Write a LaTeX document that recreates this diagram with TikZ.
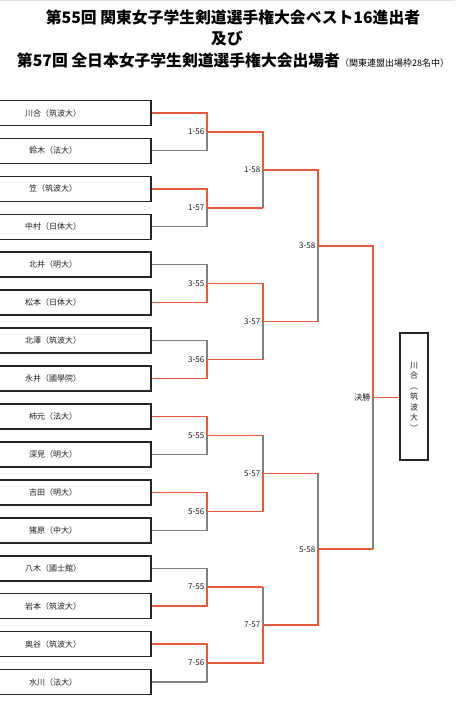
\documentclass[tikz,border=0pt]{standalone}
\usepackage{fontspec}
\setmainfont{Noto Sans CJK JP}
\usetikzlibrary{positioning}
\definecolor{WinRed}{HTML}{E8583C}
\definecolor{LoseGray}{HTML}{808080}
\definecolor{BoxInk}{HTML}{262626}
\definecolor{TextInk}{HTML}{1E1E1E}
\begin{document}
\begin{tikzpicture}[
    x=1pt, y=-1pt,
    player/.style={
      draw=BoxInk,
      line width=1.6pt,
      minimum width=196pt,
      minimum height=25pt,
      anchor=east,
      font=\fontsize{8}{9}\selectfont,
      text=TextInk
    },
    champ/.style={
      draw=BoxInk,
      line width=1.6pt,
      minimum width=28pt,
      minimum height=127pt,
      align=center,
      font=\fontsize{8}{10.5}\selectfont,
      text=TextInk
    },
    win/.style={
      line width=1.5pt,
      color=WinRed
    },
    lose/.style={
      line width=1.1pt,
      color=LoseGray
    },
    lbl/.style={
      font=\fontsize{8}{9}\selectfont,
      text=TextInk,
      inner sep=0pt
    },
    heading/.style={
      font=\fontsize{15.8}{18}\selectfont\bfseries,
      inner sep=0pt
    }
  ]

  \useasboundingbox (0,0) rectangle (455,706);
  \draw[gray!25, line width=1pt] (0,1) -- (455,1);

  % Title
  \node[heading] (h1) at (233,17.5) {第55回 関東女子学生剣道選手権大会ベスト16進出者};
  \node[heading] (h2) at (227,38) {及び};
  \node[heading] (h3) at (233,60) {第57回 全日本女子学生剣道選手権大会出場者{\fontsize{9}{9}\selectfont\mdseries （関東連盟出場枠28名中）}};

  % Players
  \node[player] (p1) at (152,113) {川合（筑波大）};
  \node[player] (p2) at (152,150.9) {鈴木（法大）};
  \node[player] (p3) at (152,188.9) {笠（筑波大）};
  \node[player] (p4) at (152,226.8) {中村（日体大）};
  \node[player] (p5) at (152,264.7) {北井（明大）};
  \node[player] (p6) at (152,302.7) {松本（日体大）};
  \node[player] (p7) at (152,340.6) {北澤（筑波大）};
  \node[player] (p8) at (152,378.5) {永井（國學院）};
  \node[player] (p9) at (152,416.4) {柿元（法大）};
  \node[player] (p10) at (152,454.4) {深見（明大）};
  \node[player] (p11) at (152,492.3) {吉田（明大）};
  \node[player] (p12) at (152,530.2) {猪原（中大）};
  \node[player] (p13) at (152,568.2) {八木（國士館）};
  \node[player] (p14) at (152,606.1) {岩本（筑波大）};
  \node[player] (p15) at (152,644) {奥谷（筑波大）};
  \node[player] (p16) at (152,682) {水川（法大）};

  % Champion
  \node[champ] (cw) at (414,396.5) {川\\合\\︵\\筑\\波\\大\\︶};

  % Match points
  \coordinate (m156) at (207,132);
  \coordinate (m157) at (207,207.8);
  \coordinate (m355) at (207,283.7);
  \coordinate (m356) at (207,359.6);
  \coordinate (m555) at (207,435.4);
  \coordinate (m556) at (207,511.3);
  \coordinate (m755) at (207,587.1);
  \coordinate (m756) at (207,663);
  \coordinate (m158) at (263,169.9);
  \coordinate (m357) at (263,321.6);
  \coordinate (m557) at (263,473.3);
  \coordinate (m757) at (263,625);
  \coordinate (m358) at (318,245.8);
  \coordinate (m558) at (318,549.2);
  \coordinate (mfin) at (373,397.5);

  % Match labels
  \node[lbl, left=2.5pt of m156] (t156) {1-56};
  \node[lbl, left=2.5pt of m157] (t157) {1-57};
  \node[lbl, left=2.5pt of m355] (t355) {3-55};
  \node[lbl, left=2.5pt of m356] (t356) {3-56};
  \node[lbl, left=2.5pt of m555] (t555) {5-55};
  \node[lbl, left=2.5pt of m556] (t556) {5-56};
  \node[lbl, left=2.5pt of m755] (t755) {7-55};
  \node[lbl, left=2.5pt of m756] (t756) {7-56};
  \node[lbl, left=2.5pt of m158] (t158) {1-58};
  \node[lbl, left=2.5pt of m357] (t357) {3-57};
  \node[lbl, left=2.5pt of m557] (t557) {5-57};
  \node[lbl, left=2.5pt of m757] (t757) {7-57};
  \node[lbl, left=2.5pt of m358] (t358) {3-58};
  \node[lbl, left=2.5pt of m558] (t558) {5-58};
  \node[lbl, left=2.5pt of mfin] (tfin) {決勝};

  % Round 1
  \draw[lose] (p2.east) -| (m156);
  \draw[win] (p1.east) -| (m156);
  \draw[lose] (p4.east) -| (m157);
  \draw[win] (p3.east) -| (m157);
  \draw[lose] (p5.east) -| (m355);
  \draw[win] (p6.east) -| (m355);
  \draw[lose] (p7.east) -| (m356);
  \draw[win] (p8.east) -| (m356);
  \draw[lose] (p10.east) -| (m555);
  \draw[win] (p9.east) -| (m555);
  \draw[lose] (p12.east) -| (m556);
  \draw[win] (p11.east) -| (m556);
  \draw[lose] (p13.east) -| (m755);
  \draw[win] (p14.east) -| (m755);
  \draw[lose] (p16.east) -| (m756);
  \draw[win] (p15.east) -| (m756);

  % Round 2
  \draw[lose] (m157 -| m158) -- (m158);
  \draw[win] (m157) -- (m157 -| m158);
  \draw[win] (m156) -| (m158);
  \draw[lose] (m356 -| m357) -- (m357);
  \draw[win] (m356) -- (m356 -| m357);
  \draw[win] (m355) -| (m357);
  \draw[lose] (m555 -| m557) -- (m557);
  \draw[win] (m555) -- (m555 -| m557);
  \draw[win] (m556) -| (m557);
  \draw[lose] (m755 -| m757) -- (m757);
  \draw[win] (m755) -- (m755 -| m757);
  \draw[win] (m756) -| (m757);

  % Round 3
  \draw[lose] (m357 -| m358) -- (m358);
  \draw[win] (m357) -- (m357 -| m358);
  \draw[win] (m158) -| (m358);
  \draw[lose] (m557 -| m558) -- (m558);
  \draw[win] (m557) -- (m557 -| m558);
  \draw[win] (m757) -| (m558);

  % Final
  \draw[lose] (m558 -| mfin) -- (mfin);
  \draw[win] (m558) -- (m558 -| mfin);
  \draw[win] (m358) -| (mfin);
  \draw[win] (mfin) -- (mfin -| cw.west);

\end{tikzpicture}
\end{document}
